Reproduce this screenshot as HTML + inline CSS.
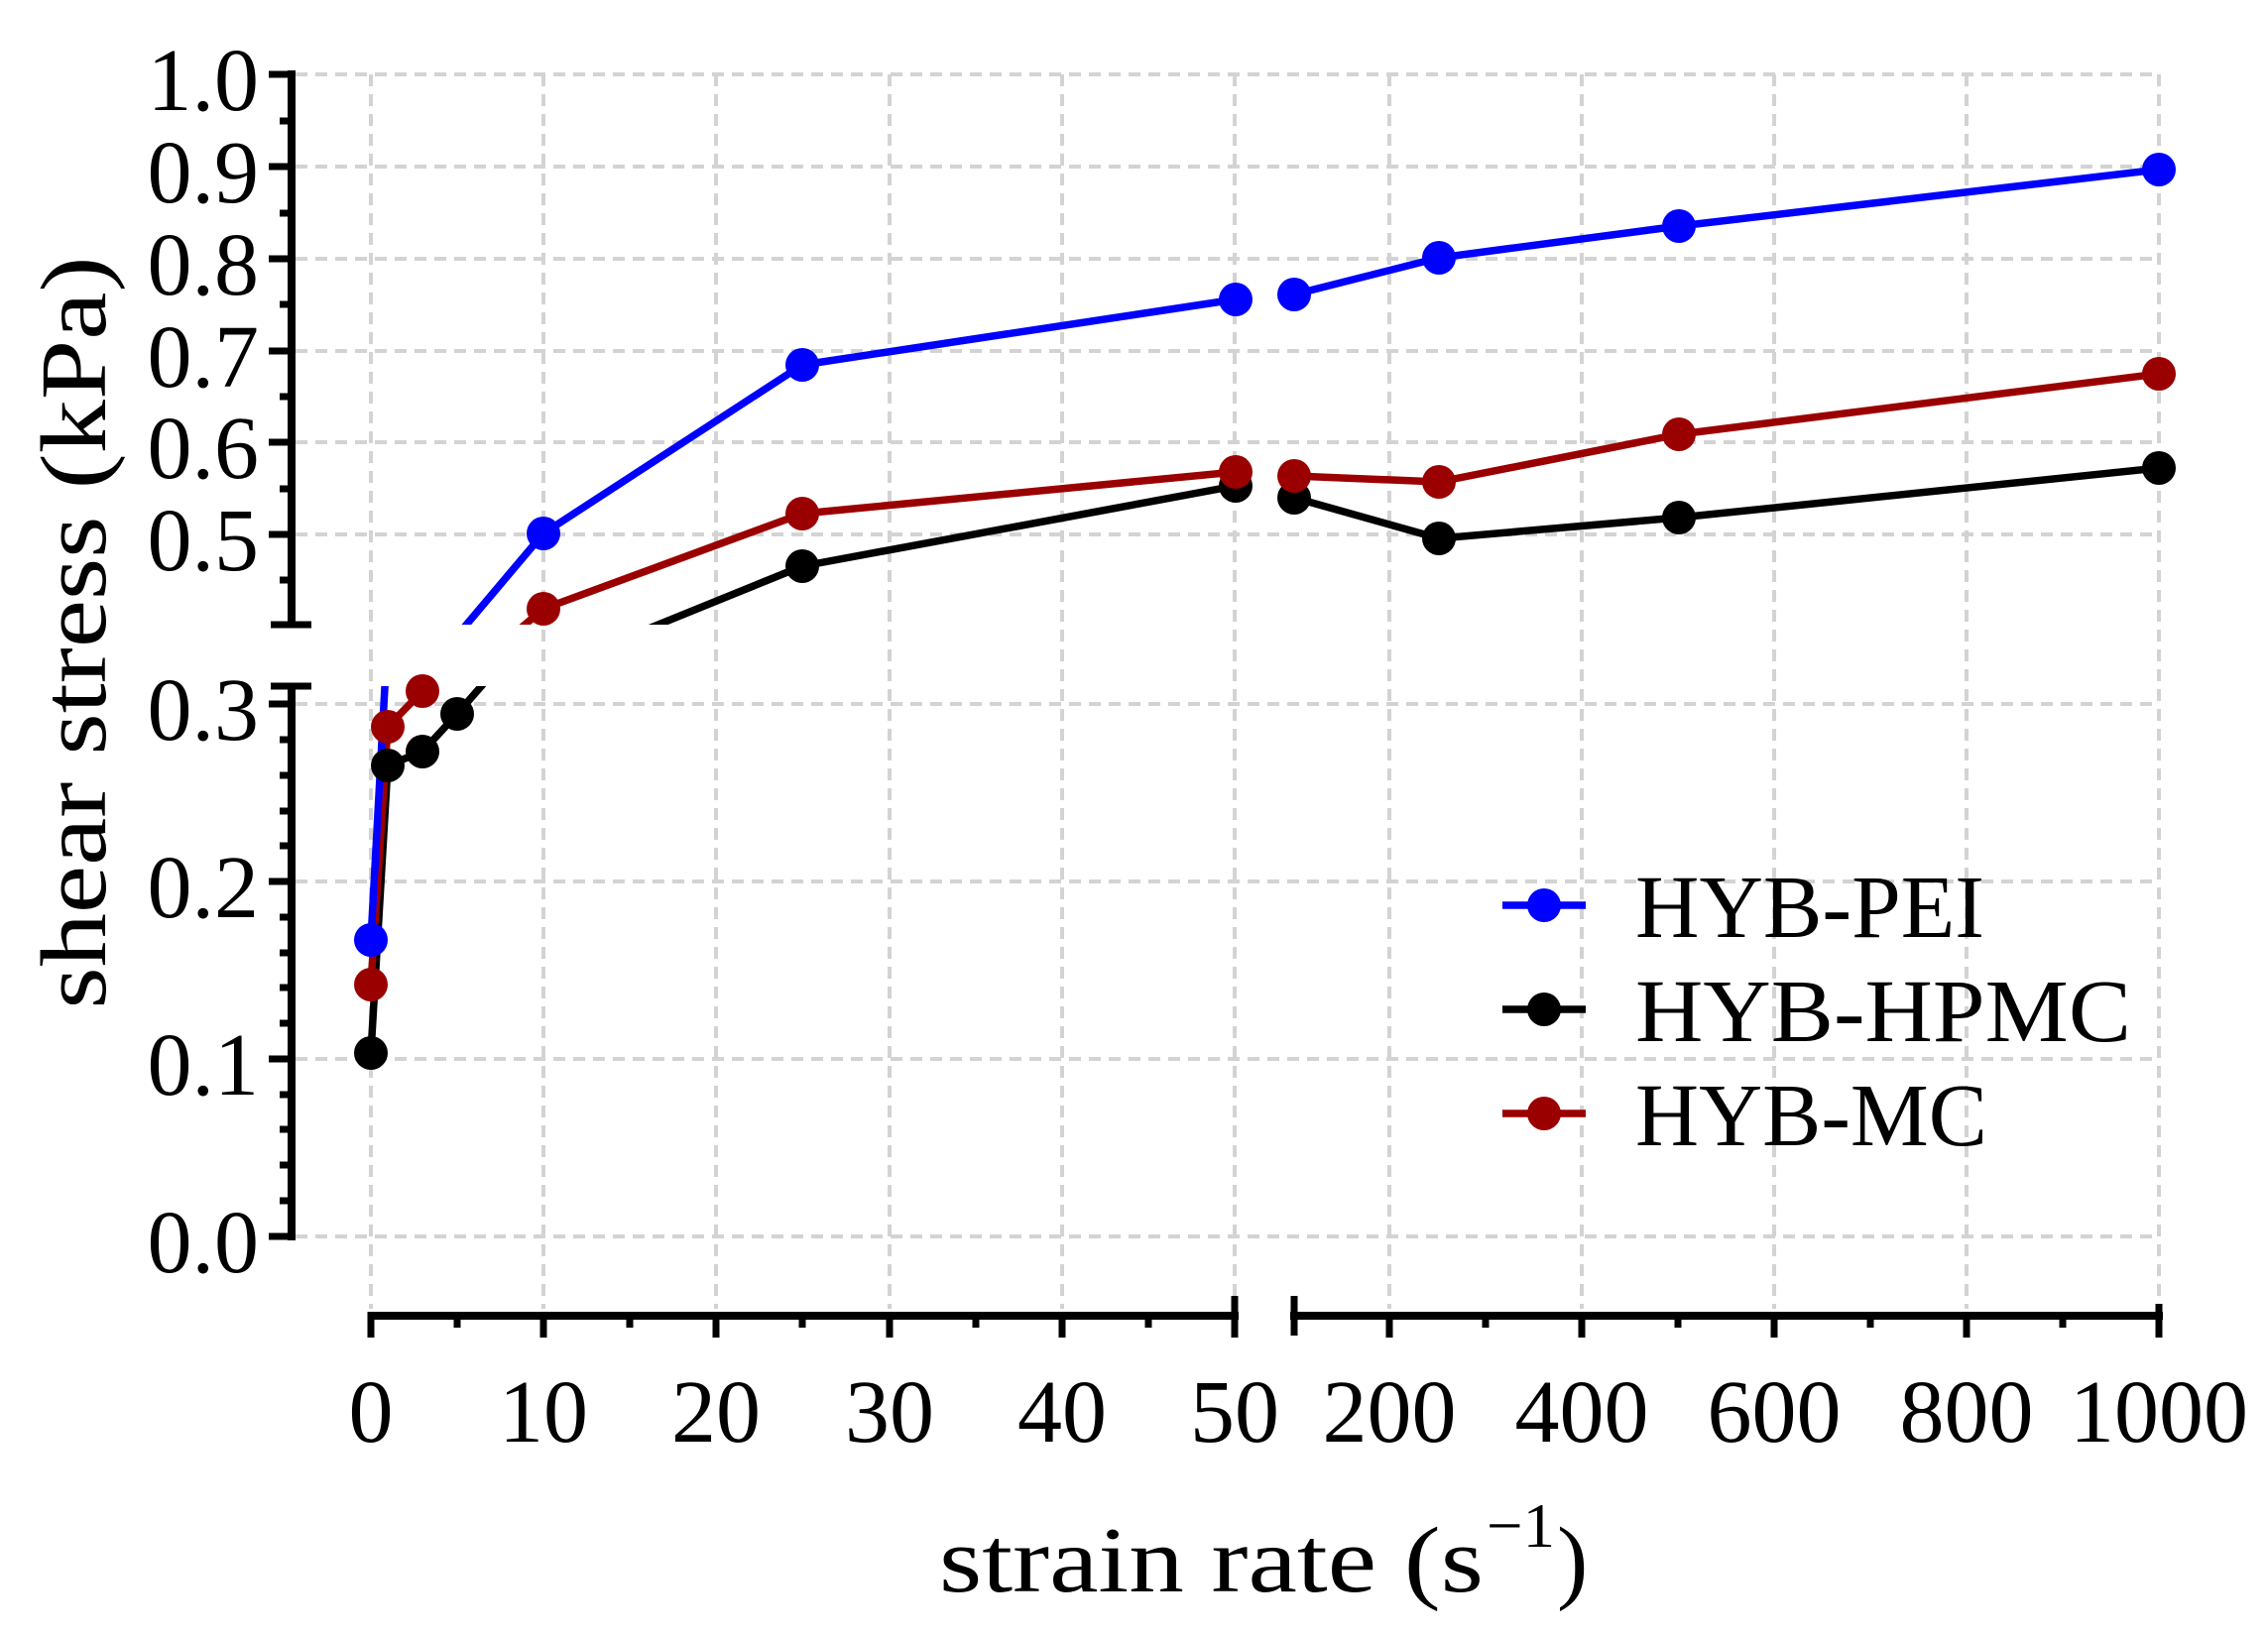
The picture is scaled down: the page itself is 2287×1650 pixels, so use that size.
<!DOCTYPE html>
<html><head><meta charset="utf-8"><style>
html,body{margin:0;padding:0;background:#fff}
svg{display:block}
text{font-family:"Liberation Serif",serif;fill:#000}
</style></head><body>
<svg width="2287" height="1650" viewBox="0 0 2287 1650" xmlns="http://www.w3.org/2000/svg">
<defs>
<clipPath id="cu"><rect x="290" y="40" width="970" height="590"/></clipPath>
<clipPath id="cl"><rect x="290" y="692" width="970" height="600"/></clipPath>
<clipPath id="cr"><rect x="1290" y="40" width="950" height="590"/></clipPath>
</defs>
<g stroke="#d3d3d3" stroke-width="4" stroke-dasharray="12,8" fill="none">
<path d="M298 75H2177M298 168H2177M298 261H2177M298 354H2177M298 446H2177M298 539H2177M298 710H2177M298 889H2177M298 1068H2177M298 1247H2177"/>
<path d="M374 75V1320M548 75V1320M722 75V1320M897 75V1320M1071 75V1320M1245 75V1320M1401 75V1320M1595 75V1320M1789 75V1320M1983 75V1320M2177 75V1320"/>
</g>
<g fill="none" stroke-width="7.5" stroke-linejoin="round">
<g clip-path="url(#cu)">
<polyline stroke="#0000ff" points="461,641 548,538 809,368 1246,302"/>
<polyline stroke="#9b0000" points="426,718 548,614 809,518 1246,476"/>
<polyline stroke="#000" points="461,740 548,677 809,571 1246,490"/>
</g>
<g clip-path="url(#cl)">
<polyline stroke="#000" points="374,1062 391,772 426,758 461,720 548,620"/>
<polyline stroke="#9b0000" points="374,993 391,733 426,697 548,487"/>
<polyline stroke="#0000ff" points="374,948 391,639"/>
</g>
<g clip-path="url(#cr)">
<polyline stroke="#0000ff" points="1305,297 1451,260 1693,228 2177,171"/>
<polyline stroke="#000" points="1305,502 1451,543 1693,522 2177,472"/>
<polyline stroke="#9b0000" points="1305,480 1451,486 1693,438 2177,377"/>
</g>
</g>
<g fill="#0000ff"><circle cx="548" cy="538" r="17"/><circle cx="809" cy="368" r="17"/><circle cx="1246" cy="302" r="17"/><circle cx="1305" cy="297" r="17"/><circle cx="1451" cy="260" r="17"/><circle cx="1693" cy="228" r="17"/><circle cx="2177" cy="171" r="17"/></g>
<g fill="#000"><circle cx="374" cy="1062" r="17"/><circle cx="391" cy="772" r="17"/><circle cx="426" cy="758" r="17"/><circle cx="461" cy="720" r="17"/><circle cx="809" cy="571" r="17"/><circle cx="1246" cy="490" r="17"/><circle cx="1305" cy="502" r="17"/><circle cx="1451" cy="543" r="17"/><circle cx="1693" cy="522" r="17"/><circle cx="2177" cy="472" r="17"/></g>
<g fill="#9b0000"><circle cx="374" cy="993" r="17"/><circle cx="391" cy="733" r="17"/><circle cx="426" cy="697" r="17"/><circle cx="548" cy="614" r="17"/><circle cx="809" cy="518" r="17"/><circle cx="1246" cy="476" r="17"/><circle cx="1305" cy="480" r="17"/><circle cx="1451" cy="486" r="17"/><circle cx="1693" cy="438" r="17"/><circle cx="2177" cy="377" r="17"/></g>
<g fill="#0000ff"><circle cx="374" cy="948" r="17"/></g>
<g stroke="#000" fill="none">
<path stroke-width="8" d="M294 71V632M294 692V1251"/>
<path stroke-width="7" d="M271 75H298M271 168H298M271 261H298M271 354H298M271 446H298M271 539H298M273 630H314M273 692H314M271 710H298M271 889H298M271 1068H298M271 1247H298"/>
<path stroke-width="7" d="M282 122H298M282 215H298M282 307H298M282 400H298M282 493H298M282 585H298M282 746H298M282 782H298M282 818H298M282 853H298M282 925H298M282 961H298M282 996H298M282 1032H298M282 1104H298M282 1139H298M282 1175H298M282 1211H298"/>
<path stroke-width="8" d="M371 1327H1249M1301 1327H2181"/>
<path stroke-width="7" d="M374 1323V1349M548 1323V1349M722 1323V1349M897 1323V1349M1071 1323V1349M1245 1307V1349M1305 1307V1347M1401 1323V1349M1595 1323V1349M1789 1323V1349M1983 1323V1349M2177 1315V1349"/>
<path stroke-width="7" d="M461 1323V1339M635 1323V1339M809 1323V1339M984 1323V1339M1158 1323V1339M1498 1323V1339M1692 1323V1339M1886 1323V1339M2080 1323V1339"/>
</g>
<g font-size="90" text-anchor="end">
<text x="261" y="111">1.0</text><text x="261" y="204">0.9</text><text x="261" y="297">0.8</text><text x="261" y="390">0.7</text><text x="261" y="482">0.6</text><text x="261" y="575">0.5</text>
<text x="261" y="746">0.3</text><text x="261" y="925">0.2</text><text x="261" y="1104">0.1</text><text x="261" y="1283">0.0</text>
</g>
<g font-size="90" text-anchor="middle">
<text x="374" y="1454">0</text><text x="548" y="1454">10</text><text x="722" y="1454">20</text><text x="897" y="1454">30</text><text x="1071" y="1454">40</text><text x="1245" y="1454">50</text>
<text x="1401" y="1454">200</text><text x="1595" y="1454">400</text><text x="1789" y="1454">600</text><text x="1983" y="1454">800</text><text x="2177" y="1454">1000</text>
</g>
<text font-size="94" x="947" y="1605" textLength="549" lengthAdjust="spacingAndGlyphs">strain rate (s</text>
<text font-size="64" x="1499" y="1560" textLength="69" lengthAdjust="spacingAndGlyphs">−1</text>
<text font-size="94" x="1570" y="1605">)</text>
<text font-size="94" text-anchor="middle" transform="translate(106,638) rotate(-90)" textLength="759" lengthAdjust="spacingAndGlyphs">shear stress (kPa)</text>
<g stroke-width="7.5">
<line x1="1515" y1="913" x2="1599" y2="913" stroke="#0000ff"/><circle cx="1557" cy="913" r="17" fill="#0000ff"/>
<line x1="1515" y1="1018" x2="1599" y2="1018" stroke="#000"/><circle cx="1557" cy="1018" r="17" fill="#000"/>
<line x1="1515" y1="1123" x2="1599" y2="1123" stroke="#9b0000"/><circle cx="1557" cy="1123" r="17" fill="#9b0000"/>
</g>
<g font-size="90">
<text x="1649" y="945" textLength="352" lengthAdjust="spacingAndGlyphs">HYB-PEI</text><text x="1649" y="1050" textLength="500" lengthAdjust="spacingAndGlyphs">HYB-HPMC</text><text x="1649" y="1155" textLength="355" lengthAdjust="spacingAndGlyphs">HYB-MC</text>
</g>
</svg>
</body></html>
